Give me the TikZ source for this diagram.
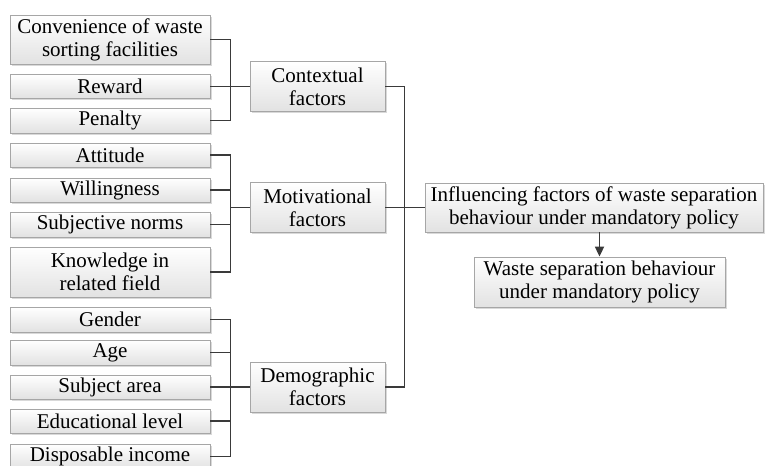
\documentclass[tikz,border=0pt]{standalone}
\usepackage{fontspec}
\setmainfont{Liberation Serif}
\usetikzlibrary{shadows,arrows.meta}
\definecolor{boxborder}{HTML}{A6A6A6}
\definecolor{boxbottom}{HTML}{E2E2E2}
\definecolor{linec}{HTML}{3A3A3A}
\tikzset{
  fbox/.style={draw=boxborder, line width=0.8pt, top color=white, bottom color=boxbottom,
    drop shadow={shadow xshift=1.6pt, shadow yshift=-1.6pt, fill=black, opacity=0.15},
    inner sep=0pt, align=center, font=\fontsize{21}{23}\selectfont, text=black},
  leftbox/.style={fbox, minimum width=200pt},
  conn/.style={draw=linec, line width=1.7pt},
}
\begin{document}
\begin{tikzpicture}[x=1pt,y=-1pt]
\useasboundingbox (0,0) rectangle (766,466);
% left column
\node[leftbox, minimum height=49pt] (conv) at (110,39.5) {Convenience of waste\\sorting facilities};
\node[leftbox, minimum height=24pt] (rew) at (110,86.5) {Reward};
\node[leftbox, minimum height=25pt] (pen) at (110,120.5) {Penalty};
\node[leftbox, minimum height=24pt] (att) at (110,155) {Attitude};
\node[leftbox, minimum height=24pt] (wil) at (110,190) {Willingness};
\node[leftbox, minimum height=25pt] (sub) at (110,224.5) {Subjective norms};
\node[leftbox, minimum height=50pt] (kno) at (110,272) {Knowledge in\\related field};
\node[leftbox, minimum height=25pt] (gen) at (110,319.5) {Gender};
\node[leftbox, minimum height=25pt] (age) at (110,352.5) {Age};
\node[leftbox, minimum height=24pt] (sar) at (110,387) {Subject area};
\node[leftbox, minimum height=24pt] (edu) at (110,421) {Educational level};
\node[leftbox, minimum height=25pt] (dis) at (110,456.5) {Disposable income};
% middle column
\node[fbox, minimum width=135pt, minimum height=50pt] (ctx) at (317.5,86.5) {Contextual\\factors};
\node[fbox, minimum width=135pt, minimum height=50pt] (mot) at (317.5,207.5) {Motivational\\factors};
\node[fbox, minimum width=135pt, minimum height=50pt] (dem) at (317.5,387) {Demographic\\factors};
% right column
\node[fbox, minimum width=338pt, minimum height=49pt] (inf) at (594,207.5) {Influencing factors of waste separation\\behaviour under mandatory policy};
\node[fbox, minimum width=251pt, minimum height=50pt] (wsb) at (599.5,282) {Waste separation behaviour\\under mandatory policy};
% contextual bracket
\draw[conn] (conv.east) -- ++(20,0) |- (pen.east);
\draw[conn] (rew.east) -- (ctx.west);
% motivational bracket
\draw[conn] (att.east) -- ++(20,0) |- (kno.east);
\draw[conn] (wil.east) -- ++(20,0);
\draw[conn] (sub.east) -- ++(20,0);
\draw[conn] (mot.west) -- ++(-20,0);
% demographic bracket
\draw[conn] (gen.east) -- ++(20,0) |- (dis.east);
\draw[conn] (age.east) -- ++(20,0);
\draw[conn] (edu.east) -- ++(20,0);
\draw[conn] (sar.east) -- (dem.west);
% right bracket
\draw[conn] (ctx.east) -- ++(19,0) |- (dem.east);
\draw[conn] (mot.east) -- (inf.west);
% arrow
\draw[conn, -{Triangle[length=10pt,width=9pt]}] (wsb.north |- inf.south) -- (wsb.north);
\end{tikzpicture}
\end{document}
